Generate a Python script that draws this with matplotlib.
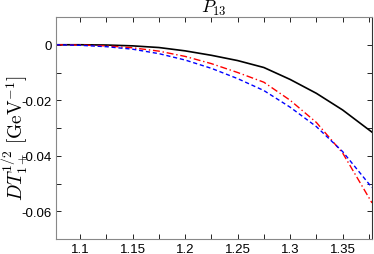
import numpy as np
import matplotlib
matplotlib.use("Agg")
import matplotlib.pyplot as plt
from matplotlib.ticker import MultipleLocator, FuncFormatter

# energy W [GeV]
w = [1.077, 1.10, 1.125, 1.15, 1.175, 1.20, 1.225, 1.25, 1.275, 1.30, 1.325, 1.35, 1.378]

# DT amplitude curves
black_solid = [0, 0, -0.0001, -0.0004, -0.0010, -0.0022, -0.0038, -0.0057, -0.0082,
               -0.0125, -0.0175, -0.0235, -0.0315]
red_dashdot = [0, -0.0001, -0.0004, -0.0011, -0.0023, -0.0042, -0.0068, -0.0100, -0.0135,
               -0.0200, -0.0280, -0.0390, -0.0570]
blue_dashed = [0, -0.0002, -0.0007, -0.0016, -0.0032, -0.0055, -0.0085, -0.0122, -0.0165,
               -0.0225, -0.0295, -0.0385, -0.0515]

plt.rcParams['mathtext.fontset'] = 'cm'
plt.rcParams['font.family'] = ['Liberation Sans', 'DejaVu Sans']

fig = plt.figure(figsize=(3.74, 2.55), dpi=100)
ax = fig.add_axes([0.1497, 0.0588, 0.845, 0.8706])

ax.plot(w, black_solid, color='black', lw=1.2)
ax.plot(w, red_dashdot, color='red', lw=1.0, linestyle=(0, (5, 2, 1, 2)))
ax.plot(w, blue_dashed, color='blue', lw=1.0, linestyle=(0, (3, 2)))

ax.set_xlim(1.077, 1.378)
ax.set_ylim(-0.07, 0.01)

ax.xaxis.set_major_locator(MultipleLocator(0.05))
ax.xaxis.set_minor_locator(MultipleLocator(0.025))
ax.yaxis.set_major_locator(MultipleLocator(0.02))
ax.yaxis.set_minor_locator(MultipleLocator(0.01))

def fmt(v, pos):
    if abs(v) < 1e-9:
        return '0'
    return ('%g' % v)

ax.xaxis.set_major_formatter(FuncFormatter(fmt))
ax.yaxis.set_major_formatter(FuncFormatter(fmt))

ax.tick_params(which='both', direction='in', top=True, right=True,
               length=3.5, width=0.6, labelsize=9.5, colors='black', pad=3)

for side in ['left', 'bottom', 'top']:
    ax.spines[side].set_color('#888888')
ax.spines['right'].set_color('#333333')

ax.set_title(r'$P_{13}$', fontsize=13, pad=2)
ax.set_ylabel(r'$DT^{1/2}_{1+}\ [\mathrm{GeV}^{-1}]$', fontsize=14)
ax.yaxis.set_label_coords(-0.08, 0.46)

fig.savefig('out.png', dpi=100)
